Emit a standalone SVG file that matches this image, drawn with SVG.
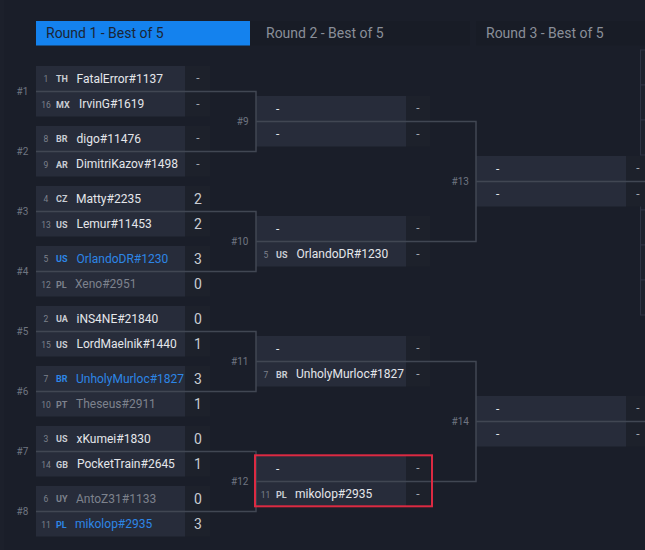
<svg xmlns="http://www.w3.org/2000/svg" width="645" height="550" viewBox="0 0 645 550">
<style>
text{font-family:Roboto,"Liberation Sans",Arial,sans-serif}
.bg{fill:#1a1e29}
.row{fill:#272c3a}
.sc{fill:#1d212b}
.tab{font-size:14px;fill:#8a8f99}
.tabon{font-size:14px;fill:#1b2535}
.seed{font-size:8.5px;fill:#7c818c;text-anchor:middle}
.cc{font-size:9px;font-weight:700;fill:#c9ccd3}
.nm{font-size:12px;font-weight:400;fill:#e4e6ea}
.blue{fill:#2d86e6}
.gray{fill:#7d828d}
.score{font-size:14px;fill:#c9ccd3;text-anchor:middle}
.dash{font-size:12px;fill:#a3a7b0;text-anchor:middle}
.lbl{font-size:10px;fill:#6f7581}
.lblr{font-size:10px;fill:#6f7581;text-anchor:end}
.conn{fill:none;stroke:#414753;stroke-width:1.5}
.edge{fill:#1d212c;stroke:#2e3342;stroke-width:1}
</style>
<rect class="bg" x="0" y="0" width="645" height="550"/>
<rect x="0" y="0" width="4" height="550" fill="#1c202b"/>

<g id="header">
<rect x="36" y="21" width="214" height="24.5" fill="#1482ee"/>
<rect x="250" y="21" width="220" height="24.5" fill="#181c26"/>
<rect x="476" y="21" width="169" height="24.5" fill="#181c26"/>
<text class="tabon" x="46" y="38">Round 1 - Best of 5</text>
<text class="tab" x="266" y="38">Round 2 - Best of 5</text>
<text class="tab" x="486" y="38">Round 3 - Best of 5</text>
</g>

<g id="edge-right">
<rect class="edge" x="640.5" y="50" width="10" height="35"/>
<rect class="edge" x="640.5" y="85" width="10" height="35"/>
<rect class="edge" x="640.5" y="120" width="10" height="35"/>
<rect class="edge" x="640.5" y="175" width="10" height="35"/>
<rect class="edge" x="640.5" y="210" width="10" height="35"/>
<rect class="edge" x="640.5" y="245" width="10" height="35"/>
<rect class="edge" x="640.5" y="280" width="10" height="35"/>
</g>

<!-- Round 1 -->
<g id="m1">
<rect class="row" x="36" y="66" width="149" height="25"/><rect class="sc" x="185" y="66" width="25" height="25"/>
<rect class="row" x="36" y="92" width="149" height="24.5"/><rect class="sc" x="185" y="92" width="25" height="24.5"/>
<text class="seed" x="46" y="81.5">1</text><text class="cc" x="56" y="82">TH</text><text class="nm" x="76.5" y="82.6">FatalError#1137</text><text class="dash" x="198" y="82">-</text>
<text class="seed" x="46" y="107.5">16</text><text class="cc" x="56" y="108">MX</text><text class="nm" x="79" y="108.3">IrvinG#1619</text><text class="dash" x="198" y="108">-</text>
<text class="lbl" x="16.5" y="95.3">#1</text>
</g>
<g id="m2">
<rect class="row" x="36" y="126" width="149" height="25"/><rect class="sc" x="185" y="126" width="25" height="25"/>
<rect class="row" x="36" y="152" width="149" height="24.5"/><rect class="sc" x="185" y="152" width="25" height="24.5"/>
<text class="seed" x="46" y="141.5">8</text><text class="cc" x="56" y="142">BR</text><text class="nm" x="76.5" y="142.6">digo#11476</text><text class="dash" x="198" y="142">-</text>
<text class="seed" x="46" y="167.5">9</text><text class="cc" x="56" y="168">AR</text><text class="nm" x="76" y="168.3">DimitriKazov#1498</text><text class="dash" x="198" y="168">-</text>
<text class="lbl" x="16.5" y="155.3">#2</text>
</g>
<g id="m3">
<rect class="row" x="36" y="186" width="149" height="25"/><rect class="sc" x="185" y="186" width="25" height="25"/>
<rect class="row" x="36" y="212" width="149" height="24.5"/><rect class="sc" x="185" y="212" width="25" height="24.5"/>
<text class="seed" x="46" y="201.5">4</text><text class="cc" x="56" y="202">CZ</text><text class="nm" x="76" y="202.6">Matty#2235</text><text class="score" x="198" y="203.5">2</text>
<text class="seed" x="46" y="227.5">13</text><text class="cc" x="56" y="228">US</text><text class="nm" x="76.5" y="228.3">Lemur#11453</text><text class="score" x="198" y="229">2</text>
<text class="lbl" x="16.5" y="215.3">#3</text>
</g>
<g id="m4">
<rect class="row" x="36" y="246" width="149" height="25"/><rect class="sc" x="185" y="246" width="25" height="25"/>
<rect class="row" x="36" y="272" width="149" height="24.5"/><rect class="sc" x="185" y="272" width="25" height="24.5"/>
<text class="seed" x="46" y="261.5">5</text><text class="cc blue" x="56" y="262">US</text><text class="nm blue" x="76.5" y="262.6">OrlandoDR#1230</text><text class="score" x="198" y="263.5">3</text>
<text class="seed" x="46" y="287.5">12</text><text class="cc gray" x="56" y="288">PL</text><text class="nm gray" x="75" y="288.3">Xeno#2951</text><text class="score gray" x="198" y="289">0</text>
<text class="lbl" x="16.5" y="275.3">#4</text>
</g>
<g id="m5">
<rect class="row" x="36" y="306" width="149" height="25"/><rect class="sc" x="185" y="306" width="25" height="25"/>
<rect class="row" x="36" y="332" width="149" height="24.5"/><rect class="sc" x="185" y="332" width="25" height="24.5"/>
<text class="seed" x="46" y="321.5">2</text><text class="cc" x="56" y="322">UA</text><text class="nm" x="76.5" y="322.6">iNS4NE#21840</text><text class="score gray" x="198" y="323.5">0</text>
<text class="seed" x="46" y="347.5">15</text><text class="cc" x="56" y="348">US</text><text class="nm" x="76.5" y="348.3">LordMaelnik#1440</text><text class="score" x="198" y="349">1</text>
<text class="lbl" x="16.5" y="335.3">#5</text>
</g>
<g id="m6">
<rect class="row" x="36" y="366" width="149" height="25"/><rect class="sc" x="185" y="366" width="25" height="25"/>
<rect class="row" x="36" y="392" width="149" height="24.5"/><rect class="sc" x="185" y="392" width="25" height="24.5"/>
<text class="seed" x="46" y="381.5">7</text><text class="cc blue" x="56" y="382">BR</text><text class="nm blue" x="76" y="382.6">UnholyMurloc#1827</text><text class="score" x="198" y="383.5">3</text>
<text class="seed" x="46" y="407.5">10</text><text class="cc gray" x="56" y="408">PT</text><text class="nm gray" x="76" y="408.3">Theseus#2911</text><text class="score" x="198" y="409">1</text>
<text class="lbl" x="16.5" y="395.3">#6</text>
</g>
<g id="m7">
<rect class="row" x="36" y="426" width="149" height="25"/><rect class="sc" x="185" y="426" width="25" height="25"/>
<rect class="row" x="36" y="452" width="149" height="24.5"/><rect class="sc" x="185" y="452" width="25" height="24.5"/>
<text class="seed" x="46" y="441.5">3</text><text class="cc" x="56" y="442">US</text><text class="nm" x="76.5" y="442.6">xKumei#1830</text><text class="score gray" x="198" y="443.5">0</text>
<text class="seed" x="46" y="467.5">14</text><text class="cc" x="56" y="468">GB</text><text class="nm" x="77" y="468.3">PocketTrain#2645</text><text class="score" x="198" y="469">1</text>
<text class="lbl" x="16.5" y="455.3">#7</text>
</g>
<g id="m8">
<rect class="row" x="36" y="486" width="149" height="25"/><rect class="sc" x="185" y="486" width="25" height="25"/>
<rect class="row" x="36" y="512" width="149" height="24.5"/><rect class="sc" x="185" y="512" width="25" height="24.5"/>
<text class="seed" x="46" y="501.5">6</text><text class="cc gray" x="56" y="502">UY</text><text class="nm gray" x="76" y="502.6">AntoZ31#1133</text><text class="score" x="198" y="503.5">0</text>
<text class="seed" x="46" y="527.5">11</text><text class="cc blue" x="56" y="528">PL</text><text class="nm blue" x="75" y="528.3">mikolop#2935</text><text class="score" x="198" y="529">3</text>
<text class="lbl" x="16.5" y="515.3">#8</text>
</g>

<!-- Round 2 -->
<g id="m9">
<rect class="row" x="256" y="96" width="150" height="25"/><rect class="sc" x="406" y="96" width="24" height="25"/>
<rect class="row" x="256" y="122" width="150" height="24.5"/><rect class="sc" x="406" y="122" width="24" height="24.5"/>
<text class="nm" x="276" y="112.6">-</text><text class="dash" x="418" y="112">-</text>
<text class="nm" x="276" y="138.3">-</text><text class="dash" x="418" y="138">-</text>
<text class="lblr" x="248.5" y="125.3">#9</text>
</g>
<g id="m10">
<rect class="row" x="256" y="216" width="150" height="25"/><rect class="sc" x="406" y="216" width="24" height="25"/>
<rect class="row" x="256" y="242" width="150" height="24.5"/><rect class="sc" x="406" y="242" width="24" height="24.5"/>
<text class="nm" x="276" y="232.6">-</text><text class="dash" x="418" y="232">-</text>
<text class="seed" x="266" y="257.5">5</text><text class="cc" x="276" y="258">US</text><text class="nm" x="296.5" y="258.3">OrlandoDR#1230</text><text class="dash" x="418" y="258">-</text>
<text class="lblr" x="248.5" y="245.3">#10</text>
</g>
<g id="m11">
<rect class="row" x="256" y="336" width="150" height="25"/><rect class="sc" x="406" y="336" width="24" height="25"/>
<rect class="row" x="256" y="362" width="150" height="24.5"/><rect class="sc" x="406" y="362" width="24" height="24.5"/>
<text class="nm" x="276" y="352.6">-</text><text class="dash" x="418" y="352">-</text>
<text class="seed" x="266" y="377.5">7</text><text class="cc" x="276" y="378">BR</text><text class="nm" x="296" y="378.3">UnholyMurloc#1827</text><text class="dash" x="418" y="378">-</text>
<text class="lblr" x="248.5" y="365.3">#11</text>
</g>
<g id="m12">
<rect class="row" x="256" y="456" width="150" height="25"/><rect class="sc" x="406" y="456" width="24" height="25"/>
<rect class="row" x="256" y="482" width="150" height="24.5"/><rect class="sc" x="406" y="482" width="24" height="24.5"/>
<text class="nm" x="276" y="472.6">-</text><text class="dash" x="418" y="472">-</text>
<text class="seed" x="265.5" y="497.5">11</text><text class="cc" x="276" y="498">PL</text><text class="nm" x="295" y="498.3">mikolop#2935</text><text class="dash" x="418" y="498">-</text>
<text class="lblr" x="248.5" y="485.3">#12</text>
</g>

<!-- Round 3 -->
<g id="m13">
<rect class="row" x="476" y="156" width="150" height="25"/><rect class="sc" x="626" y="156" width="24" height="25"/>
<rect class="row" x="476" y="182" width="150" height="24.5"/><rect class="sc" x="626" y="182" width="24" height="24.5"/>
<text class="nm" x="496" y="172.6">-</text><text class="dash" x="638" y="172">-</text>
<text class="nm" x="496" y="198.3">-</text><text class="dash" x="638" y="198">-</text>
<text class="lblr" x="469" y="185.3">#13</text>
</g>
<g id="m14">
<rect class="row" x="476" y="396" width="150" height="25"/><rect class="sc" x="626" y="396" width="24" height="25"/>
<rect class="row" x="476" y="422" width="150" height="24.5"/><rect class="sc" x="626" y="422" width="24" height="24.5"/>
<text class="nm" x="496" y="412.6">-</text><text class="dash" x="638" y="412">-</text>
<text class="nm" x="496" y="438.3">-</text><text class="dash" x="638" y="438">-</text>
<text class="lblr" x="469" y="425.3">#14</text>
</g>

<g id="connectors">
<path class="conn" d="M36,91.5 H256 V151.5 H36"/>
<path class="conn" d="M36,211.5 H256 V271.5 H36"/>
<path class="conn" d="M36,331.5 H256 V391.5 H36"/>
<path class="conn" d="M36,451.5 H256 V511.5 H36"/>
<path class="conn" d="M256,121.5 H476 V241.5 H256"/>
<path class="conn" d="M256,361.5 H476 V481.5 H256"/>
<path class="conn" d="M476,181.5 H645"/>
<path class="conn" d="M476,421.5 H645"/>
</g>

<g id="highlight">
<rect x="255" y="455.3" width="177" height="51" fill="none" stroke="#dc2a42" stroke-width="2"/>
</g>
</svg>
